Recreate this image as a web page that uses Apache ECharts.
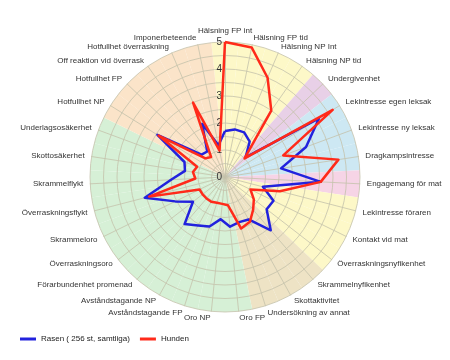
<!DOCTYPE html>
<html><head><meta charset="utf-8">
<script src="https://cdn.jsdelivr.net/npm/echarts@6/dist/echarts.min.js"></script>
<style>html,body{margin:0;padding:0;background:#fff}#c{width:450px;height:360px}</style>
</head><body><div id="c"></div>
<script>
const categories = ['Hälsning FP int','Hälsning FP tid','Hälsning NP Int','Hälsning NP tid','Undergivenhet',
 'Lekintresse egen leksak','Lekintresse ny leksak','Dragkampsintresse','Engagemang för mat','Lekintresse föraren',
 'Kontakt vid mat','Överraskningsnyfikenhet','Skrammelnyfikenhet','Skottaktivitet','Undersökning av annat',
 'Oro FP','Oro NP','Avståndstagande FP','Avståndstagande NP','Förarbundenhet promenad',
 'Överraskningsoro','Skrammeloro','Överraskningsflykt','Skrammelflykt','Skottosäkerhet',
 'Underlagsosäkerhet','Hotfullhet NP','Hotfullhet FP','Off reaktion vid överrask','Hotfullhet överraskning',
 'Imponerbeteende'];
const groups = ['A','A','A','A','B','C','C','C','D','A','A','A','E','E','E',
 'F','F','F','F','F','F','F','F','F','F','F','G','G','G','G','G'];
const seriesNames = ['Rasen ( 256 st, samtliga)','Hunden'];
const rasen  = [1.7,1.8,1.8,1.6,1.05,4.1,3.2,2.1,3.55,1.45,2.0,1.95,2.6,1.8,1.75,1.85,1.57,1.92,2.05,2.3,1.5,2.05,3.07,2.0,1.5,1.6,2.95,1.2,1.15,2.14,1.2];
const hunden = [5.0,4.9,4.0,3.0,1.0,4.7,2.3,4.25,3.55,2.1,1.05,1.35,1.6,1.9,2.0,1.05,1.0,1.0,1.05,1.05,1.05,1.05,2.9,1.1,1.2,1.1,2.9,1.0,0.9,3.0,1.0];
const radiusTicks = [0,1,2,3,4,5];

const groupColors = {A:'#fdf8c8',B:'#e8d0e7',C:'#cde8f3',D:'#f6d4e6',E:'#eee3c5',F:'#d6f0d6',G:'#fbe4c9'};
const FONT = 'Liberation Sans, Arial, sans-serif';
const CENTER = [225,177], R = 135;
const rMax = radiusTicks[radiusTicks.length-1];
const n = categories.length;
// radar lays indicators counter-clockwise; reorder to get clockwise order
const order = [0].concat(Array.from({length:n-1},(_,k)=>n-1-k));
const indicator = order.map((i,k)=>{
  const o = {name: categories[i], min: 0, max: rMax};
  if (k===0) o.axisLabel = {show:true};
  return o;
});
const chart = echarts.init(document.getElementById('c'));
chart.setOption({
  animation:false,
  backgroundColor:'#fff',
  polar:{center:CENTER, radius:R},
  angleAxis:{type:'category', data:categories, startAngle:90+180/n, clockwise:true, show:false},
  radiusAxis:{type:'value', min:0, max:rMax, show:false},
  radar:{
    center:CENTER, radius:R, startAngle:90, shape:'circle', splitNumber:10,
    indicator:indicator, nameGap:7, zlevel:1,
    axisName:{color:'#333', fontSize:8, fontFamily:FONT},
    splitArea:{show:false},
    splitLine:{lineStyle:{color:'#c4c2ab', width:0.8}},
    axisLine:{lineStyle:{color:'#c4c2ab', width:0.8}},
    axisTick:{show:false},
    axisLabel:{show:false, color:'#333', fontSize:10, fontFamily:FONT, margin:3,
      formatter:v=> radiusTicks.indexOf(v)>=0 ? String(v) : ''}
  },
  legend:{left:15, top:330, icon:'rect', itemWidth:16, itemHeight:3, itemGap:10,
    textStyle:{fontSize:8, color:'#222', fontFamily:FONT}, data:seriesNames},
  series:[
    {type:'bar', coordinateSystem:'polar', barWidth:'100%', barCategoryGap:'0%', silent:true,
      data:categories.map((c,i)=>({value:rMax, itemStyle:{color:groupColors[groups[i]]}}))},
    {type:'radar', zlevel:1, symbol:'none',
      data:[
        {name:seriesNames[0], value:order.map(i=>rasen[i]), itemStyle:{color:'#2222dd'}, lineStyle:{color:'#2222dd', width:2.5}},
        {name:seriesNames[1], value:order.map(i=>hunden[i]), itemStyle:{color:'#ff2a1a'}, lineStyle:{color:'#ff2a1a', width:2.5}}
      ]}
  ]
});
</script></body></html>
